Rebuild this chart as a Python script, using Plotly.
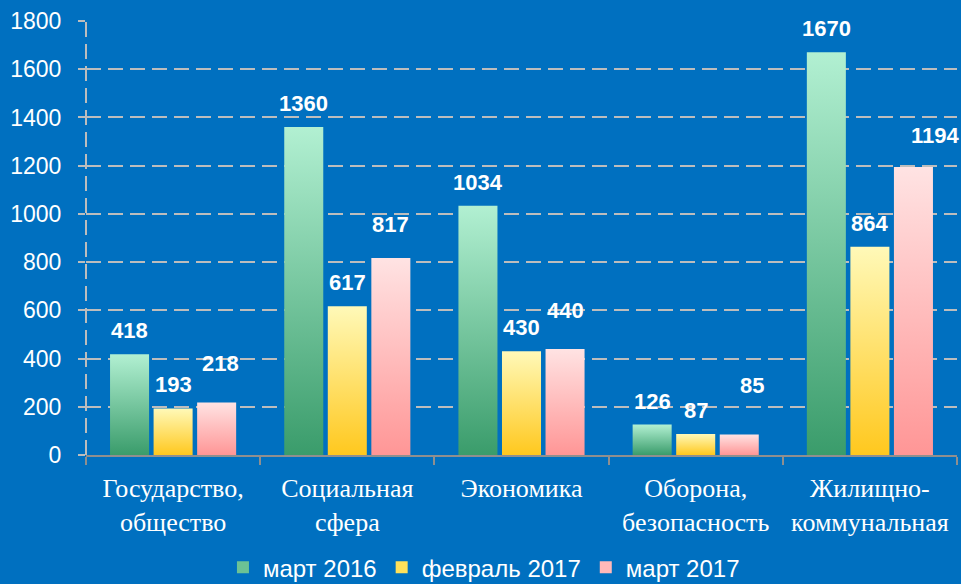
import plotly.graph_objects as go

# Budget expenditure by section (values shown above the bars)
categories = ["Государство,<br>общество", "Социальная<br>сфера", "Экономика",
              "Оборона,<br>безопасность", "Жилищно-<br>коммунальная"]
series_names = ["март 2016", "февраль 2017", "март 2017"]
mar_2016 = [418, 1360, 1034, 126, 1670]
feb_2017 = [193, 617, 430, 87, 864]
mar_2017 = [218, 817, 440, 85, 1194]
y_ticks = [0, 200, 400, 600, 800, 1000, 1200, 1400, 1600, 1800]

series_values = [mar_2016, feb_2017, mar_2017]

# Styling: gradient colours (bottom, top) and legend swatch colour per series
grad_bottom = ["#3a9c6b", "#ffc81e", "#ff9696"]
grad_top = ["#b2f0d2", "#fff9b8", "#ffe3e3"]
swatch = ["#6cc295", "#ffe15a", "#ffb9b9"]

# Per-label nudges in pixels (label placement as laid out originally)
label_dx = [[0, 0, 0, 0, 0], [0, 0, 0, 0, 0], [4, 0, 0, 13, 22]]
label_dy = [[0, 0, 0, 0, 0], [0, 0, 0, 0, 0], [15, 10, 15, 26, 8]]

BG = "#0070c0"
GRID = "#bdbdbd"
AXIS = "#8f8f8f"
bar_w = 0.224
offsets = [-0.25, 0.0, 0.25]

fig = go.Figure()

for s, vals in enumerate(series_values):
    for i, v in enumerate(vals):
        xc = i + offsets[s]
        x0, x1 = xc - bar_w / 2, xc + bar_w / 2
        fig.add_trace(go.Scatter(
            x=[x0, x1, x1, x0, x0],
            y=[0, 0, v, v, 0],
            mode="lines",
            fill="toself",
            line=dict(width=0),
            fillgradient=dict(type="vertical", start=0, stop=v,
                              colorscale=[[0, grad_bottom[s]], [1, grad_top[s]]]),
            hoverinfo="skip",
            showlegend=False,
        ))
        fig.add_annotation(
            x=xc, y=v, text=str(v), showarrow=False,
            xanchor="center", yanchor="middle",
            xshift=label_dx[s][i], yshift=23.5 + label_dy[s][i],
            font=dict(family="Liberation Sans, Arial", size=22, color="white", weight="bold"),
        )

# Legend entries
for s, name in enumerate(series_names):
    fig.add_trace(go.Bar(x=[None], y=[None], name=name,
                         marker=dict(color=swatch[s], line=dict(width=0))))

# Dashed vertical value axis line
fig.add_shape(type="line", xref="paper", yref="paper", x0=0, x1=0, y0=0, y1=1,
              line=dict(color=GRID, width=2, dash="15px,7px"), layer="below")

fig.update_layout(
    width=961, height=584,
    margin=dict(l=86, r=4, t=21, b=128.5),
    paper_bgcolor=BG, plot_bgcolor=BG,
    showlegend=True,
    legend=dict(orientation="h", xref="container", yref="container",
                x=0.232, y=0.028, xanchor="left", yanchor="middle",
                font=dict(family="Liberation Sans, Arial", size=24, color="white"),
                bgcolor="rgba(0,0,0,0)", itemclick=False, tracegroupgap=0),
    xaxis=dict(
        range=[-0.5, 4.5],
        tickmode="array", tickvals=list(range(len(categories))), ticktext=categories,
        ticks="", showgrid=False, zeroline=False,
        showline=True, linecolor=AXIS, linewidth=2,
        tickfont=dict(family="Liberation Serif, Times New Roman", size=26, color="white"),
        ticklabelstandoff=9,
        minor=dict(tickmode="array", tickvals=[-0.5, 0.5, 1.5, 2.5, 3.5, 4.5],
                   ticks="outside", ticklen=8, tickwidth=2, tickcolor=AXIS, showgrid=False),
        fixedrange=True,
    ),
    yaxis=dict(
        range=[0, 1800],
        tickmode="array", tickvals=y_ticks,
        showgrid=True, gridcolor=GRID, gridwidth=2, griddash="15px,7px",
        zeroline=False, showline=False,
        ticks="outside", ticklen=7, tickwidth=2, tickcolor=GRID,
        tickfont=dict(family="Liberation Sans, Arial", size=23, color="white"),
        ticklabelstandoff=12,
        fixedrange=True,
    ),
)

fig.write_html("out.html")
